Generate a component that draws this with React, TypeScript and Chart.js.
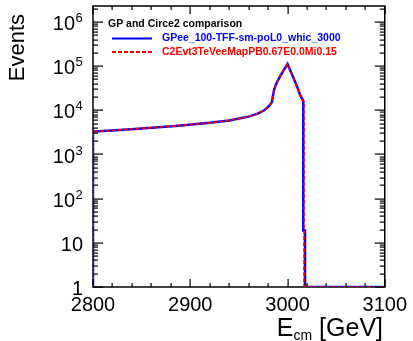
import React, { useEffect, useRef } from "react";
import { Chart, registerables } from "chart.js";

Chart.register(...registerables);

// ---- data ----
const energyGP = [2800, 2800, 2820, 2850, 2888, 2920, 2940, 2960, 2970, 2976, 2981, 2984, 2986, 2988, 2992, 2996, 3000, 3005, 3010, 3013, 3015, 3016.2, 3016.2, 3018, 3018, 3100];
const eventsGP = [1, 3300, 3500, 3900, 4500, 5200, 5900, 7200, 8500, 10000, 12500, 15500, 28000, 38000, 57000, 80000, 112000, 62000, 34000, 22000, 18500, 16000, 19, 19, 1, 1];
const energyC2 = [2800, 2800, 2820, 2850, 2888, 2920, 2940, 2960, 2970, 2976, 2981, 2984, 2986, 2988, 2992, 2996, 3000, 3005, 3010, 3013, 3015, 3016.2, 3017, 3017, 3100];
const eventsC2 = [1, 3300, 3500, 3900, 4500, 5200, 5900, 7200, 8500, 10000, 12500, 15500, 28000, 38000, 57000, 80000, 112000, 62000, 34000, 22000, 18500, 16000, 16000, 1, 1];

const xMajorTicks = [2800, 2900, 3000, 3100];
const yDecades = [0, 1, 2, 3, 4, 5, 6];
const yTickLabels = ["1", "10", "10", "10", "10", "10", "10"];
const ySuperscripts = ["", "", "2", "3", "4", "5", "6"];

const legendTitle = "GP and Circe2 comparison";
const seriesNames = ["GPee_100-TFF-sm-poL0_whic_3000", "C2Evt3TeVeeMapPB0.67E0.0Mi0.15"];
const seriesColors = ["#0000ff", "#ff0000"];
const yTitle = "Events";
const xTitleMain = "E";
const xTitleSub = "cm";
const xTitleUnit = " [GeV]";

const FONT = '"Liberation Sans", Arial, Helvetica, sans-serif';

const rootDecor = {
  id: "rootDecor",
  beforeDatasetsDraw(chart: any) {
    const ctx = chart.ctx;
    const { left, right, top, bottom } = chart.chartArea;
    ctx.save();
    ctx.setLineDash([]);
    ctx.strokeStyle = "#000";
    ctx.lineWidth = 1.5;
    ctx.strokeRect(left, top, right - left, bottom - top);
    ctx.restore();
  },
  afterDraw(chart: any) {
    const ctx = chart.ctx;
    const area = chart.chartArea;
    const left = area.left;
    const right = area.right;
    const top = area.top;
    const bottom = area.bottom;
    const xs = chart.scales.x;
    const ys = chart.scales.y;
    ctx.save();
    ctx.setLineDash([]);
    ctx.fillStyle = "#000";
    // x ticks every 20, major every 100 (inside the frame, top and bottom)
    for (let v = 2800; v <= 3100; v += 20) {
      const px = Math.round(xs.getPixelForValue(v));
      const len = v % 100 === 0 ? 8 : 4;
      ctx.fillRect(px - 0.5, bottom - len, 1.2, len);
      ctx.fillRect(px - 0.5, top, 1.2, len);
    }
    // y log ticks (inside the frame, left and right)
    for (let d = 0; d <= 6; d++) {
      for (let m = 1; m <= 9; m++) {
        const v = m * Math.pow(10, d);
        if (v > 2.3e6) break;
        const py = Math.round(ys.getPixelForValue(v));
        const len = m === 1 ? 10 : 5;
        ctx.fillRect(left, py - 0.5, len, 1.2);
        ctx.fillRect(right - len, py - 0.5, len, 1.2);
      }
    }

    // y tick labels with superscripts
    yDecades.forEach((d, i) => {
      const py = ys.getPixelForValue(Math.pow(10, d)) + 2.5;
      ctx.textBaseline = "middle";
      ctx.font = `20px ${FONT}`;
      ctx.textAlign = "right";
      if (ySuperscripts[i]) {
        ctx.fillText(yTickLabels[i], 75, py);
        ctx.font = `13px ${FONT}`;
        ctx.textAlign = "left";
        ctx.fillText(ySuperscripts[i], 75.5, py - 6);
      } else {
        ctx.fillText(yTickLabels[i], 83, py);
      }
    });
    // y title
    ctx.save();
    ctx.translate(18, 14);
    ctx.rotate(-Math.PI / 2);
    ctx.font = `22px ${FONT}`;
    ctx.textAlign = "right";
    ctx.textBaseline = "middle";
    ctx.fillText(yTitle, 0, 0);
    ctx.restore();
    // x title with subscript, right aligned
    const base = 336;
    ctx.textBaseline = "alphabetic";
    ctx.textAlign = "left";
    ctx.font = `25px ${FONT}`;
    const wUnit = ctx.measureText(xTitleUnit).width;
    const wMain = ctx.measureText(xTitleMain).width;
    ctx.font = `14px ${FONT}`;
    const wSub = ctx.measureText(xTitleSub).width;
    const endX = 383;
    const x0 = endX - wUnit - wSub - wMain;
    ctx.font = `25px ${FONT}`;
    ctx.fillText(xTitleMain, x0, base);
    ctx.font = `14px ${FONT}`;
    ctx.fillText(xTitleSub, x0 + wMain, base + 4);
    ctx.font = `25px ${FONT}`;
    ctx.fillText(xTitleUnit, x0 + wMain + wSub, base);
    // legend
    ctx.font = `bold 10.5px ${FONT}`;
    ctx.textBaseline = "middle";
    ctx.fillStyle = "#000";
    ctx.fillText(legendTitle, 108, 24.5);
    const rows = [38.5, 52];
    seriesNames.forEach((name, i) => {
      ctx.strokeStyle = seriesColors[i];
      ctx.lineWidth = 2;
      ctx.setLineDash(i === 1 ? [4, 2] : []);
      ctx.beginPath();
      ctx.moveTo(112, rows[i]);
      ctx.lineTo(152, rows[i]);
      ctx.stroke();
      ctx.setLineDash([]);
      ctx.fillStyle = seriesColors[i];
      ctx.fillText(name, 162, rows[i]);
    });
    ctx.restore();
  },
};

export default function App() {
  const canvasRef = useRef<HTMLCanvasElement | null>(null);
  useEffect(() => {
    document.body.style.margin = "0";
    const canvas = canvasRef.current;
    if (!canvas) return;
    const chart = new Chart(canvas, {
      type: "line",
      data: {
        datasets: [
          {
            label: seriesNames[0],
            data: energyGP.map((e, i) => ({ x: e, y: eventsGP[i] })),
            borderColor: seriesColors[0],
            borderWidth: 2.5,
            pointRadius: 0,
            tension: 0,
            fill: false,
            order: 2,
          },
          {
            label: seriesNames[1],
            data: energyC2.map((e, i) => ({ x: e, y: eventsC2[i] })),
            borderColor: seriesColors[1],
            borderWidth: 1.6,
            borderDash: [4, 2],
            pointRadius: 0,
            tension: 0,
            fill: false,
            order: 1,
          },
        ],
      },
      plugins: [rootDecor],
      options: {
        animation: false,
        responsive: true,
        maintainAspectRatio: false,
        devicePixelRatio: 1,
        layout: { padding: { left: 0, right: 23, top: 6, bottom: 0 } },
        plugins: { legend: { display: false }, tooltip: { enabled: false } },
        scales: {
          x: {
            type: "linear",
            min: 2800,
            max: 3100,
            grid: { display: false, drawTicks: false },
            border: { display: false },
            afterBuildTicks: (s: any) => {
              s.ticks = xMajorTicks.map((v) => ({ value: v }));
            },
            ticks: {
              color: "#000",
              font: { size: 20, family: FONT },
              padding: 6,
              maxRotation: 0,
              autoSkip: false,
              callback: (v: any) => String(v),
            },
            afterFit: (s: any) => {
              s.height = 54;
            },
          },
          y: {
            type: "logarithmic",
            min: 1,
            max: 2.3e6,
            grid: { display: false },
            border: { display: false },
            ticks: { display: false },
            afterFit: (s: any) => {
              s.width = 93;
            },
          },
        },
      },
    } as any);
    return () => chart.destroy();
  }, []);
  return (
    <div style={{ width: 413, height: 341, position: "relative" }}>
      <canvas ref={canvasRef} />
    </div>
  );
}
